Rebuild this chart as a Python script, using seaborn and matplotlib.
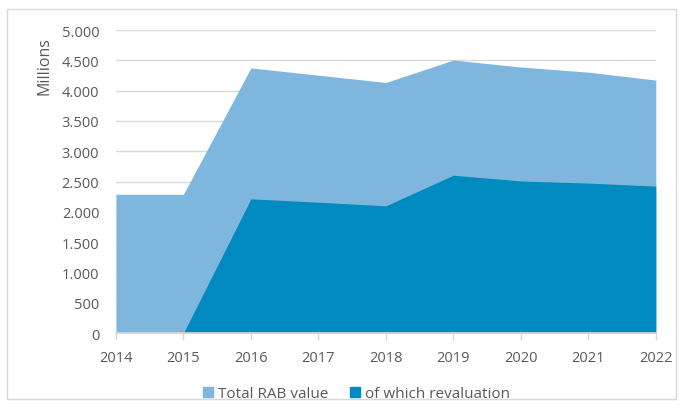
import matplotlib
matplotlib.use("Agg")
import matplotlib.pyplot as plt
import matplotlib.patches as mpatches
from matplotlib.ticker import FuncFormatter, MultipleLocator
import seaborn as sns
import pandas as pd

years = [2014, 2015, 2016, 2017, 2018, 2019, 2020, 2021, 2022]
total_rab = [2290, 2290, 4375, 4255, 4135, 4505, 4390, 4305, 4175]
revaluation = [0, 0, 2215, 2160, 2100, 2605, 2510, 2475, 2425]
series_names = ["Total RAB value", "of which revaluation"]
colors = ["#7FB6DE", "#008BC0"]

df = pd.DataFrame({"year": years, series_names[0]: total_rab, series_names[1]: revaluation})

sns.set_theme(style="white")
plt.rcParams["font.family"] = ["Open Sans", "DejaVu Sans"]

fig = plt.figure(figsize=(6.86, 4.14), dpi=100)
ax = fig.add_axes([0.169, 0.193, 0.787, 0.732])

# outer chart frame
frame = mpatches.Rectangle((0.010, 0.034), 0.976, 0.942, transform=fig.transFigure,
                           fill=False, edgecolor="#D9D9D9", linewidth=1.0, zorder=0)
fig.patches.append(frame)

for name, col in zip(series_names, colors):
    sns.lineplot(data=df, x="year", y=name, ax=ax, color=col, linewidth=0, legend=False)
    ax.fill_between(df["year"], 0, df[name], color=col, linewidth=0, zorder=2)

ax.set_xlim(2014, 2022)
ax.set_ylim(0, 5000)
ax.yaxis.set_major_locator(MultipleLocator(500))
ax.yaxis.set_major_formatter(FuncFormatter(lambda v, p: f"{int(v):,}".replace(",", ".")))
ax.set_xticks(years)
ax.set_xticklabels([str(y) for y in years])

ax.grid(axis="y", color="#D9D9D9", linewidth=1.0, zorder=0)
ax.set_axisbelow(True)
for s in ["top", "right", "left"]:
    ax.spines[s].set_visible(False)
ax.spines["bottom"].set_color("#D9D9D9")
ax.spines["bottom"].set_zorder(3)

ax.tick_params(axis="x", colors="#D9D9D9", length=5, width=1, direction="out",
               labelcolor="#595959", labelsize=10.5, pad=7, bottom=True)
ax.tick_params(axis="y", length=0, labelcolor="#595959", labelsize=10.5, pad=12)

ax.set_xlabel("")
ax.set_ylabel("")
fig.text(0.065, 0.84, "Millions", rotation=90, ha="center", va="center",
         fontsize=11.5, color="#595959")

handles = [mpatches.Patch(color=c, label=n) for n, c in zip(series_names, colors)]
fig.legend(handles=handles, loc="center", bbox_to_anchor=(0.52, 0.046), ncol=2,
           frameon=False, fontsize=11, labelcolor="#595959", handlelength=0.65,
           handleheight=0.65, handletextpad=0.35, columnspacing=1.4)

fig.savefig("out.png", dpi=100)
